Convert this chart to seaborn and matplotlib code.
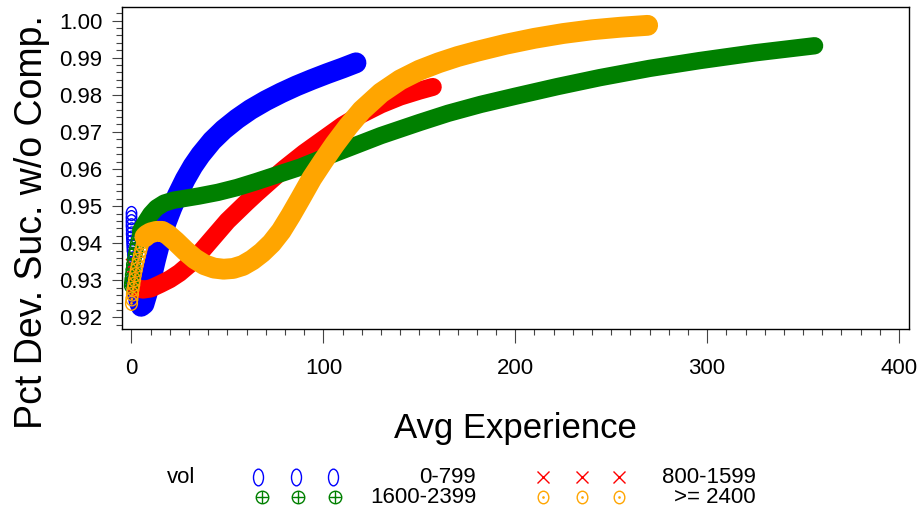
import numpy as np
import pandas as pd
import matplotlib
matplotlib.use("Agg")
import matplotlib.pyplot as plt
from matplotlib.path import Path
from matplotlib.lines import Line2D
from matplotlib.ticker import MultipleLocator, FormatStrFormatter
import seaborn as sns

# ---------------- data ----------------
series_names = ["0-799", "800-1599", "1600-2399", ">= 2400"]

# sparse individual markers at the very start of each curve
blue_ring_x = [0, 0, 0, 0, 0.1, 0.1, 0.2, 0.3, 0.4, 0.5, 0.7, 0.9, 1.1, 1.4, 1.7, 2.0, 2.4]
blue_ring_y = [0.9480, 0.9469, 0.9458, 0.9447, 0.9436, 0.9425, 0.9414, 0.9403, 0.9392,
               0.9381, 0.9370, 0.9358, 0.9346, 0.9334, 0.9322, 0.9310, 0.9297]
red_ring_x = [0, 0.3, 0.6, 1.0, 1.5, 2.0, 2.6]
red_ring_y = [0.9345, 0.9335, 0.9322, 0.9310, 0.9298, 0.9288, 0.9280]
green_ring_x = [0, 0.1, 0.3, 0.5, 0.8, 1.1, 1.5, 2.0, 2.5, 3.0, 3.6, 4.2, 4.8]
green_ring_y = [0.9285, 0.9293, 0.9303, 0.9315, 0.9328, 0.9342, 0.9356, 0.9370,
                0.9384, 0.9397, 0.9410, 0.9422, 0.9434]
orange_ring_x = [0, 0.2, 0.5, 0.8, 1.2, 1.6, 2.0, 2.5, 3.0, 3.6, 4.2, 4.8, 5.5, 6.2, 7.0]
orange_ring_y = [0.9238, 0.9250, 0.9263, 0.9276, 0.9289, 0.9302, 0.9315, 0.9328,
                 0.9341, 0.9354, 0.9367, 0.9380, 0.9393, 0.9405, 0.9417]

# dense part of each curve
blue_x = [2.4, 3, 4, 5, 6.5, 8, 10, 12.5, 15, 18, 21, 24, 28, 32, 36, 42, 48, 55,
          62, 70, 78, 86, 94, 102, 110, 117]
blue_y = [0.9297, 0.9270, 0.9242, 0.9230, 0.9236, 0.9262, 0.9300, 0.9355, 0.9405,
          0.9455, 0.9495, 0.9530, 0.9572, 0.9608, 0.9638, 0.9676, 0.9706, 0.9735,
          0.9760, 0.9784, 0.9805, 0.9824, 0.9841, 0.9857, 0.9872, 0.9886]

red_x = [2.6, 3.5, 6, 10, 15, 20, 25, 30, 35, 40, 45, 50, 55, 60, 65, 70, 75, 80,
         90, 100, 110, 120, 130, 140, 150, 157]
red_y = [0.9280, 0.9278, 0.9275, 0.9278, 0.9290, 0.9303, 0.9320, 0.9342, 0.9370,
         0.9400, 0.9430, 0.9460, 0.9485, 0.9510, 0.9534, 0.9557, 0.9580, 0.9602,
         0.9643, 0.9680, 0.9717, 0.9748, 0.9774, 0.9795, 0.9811, 0.9821]

green_x = [4.8, 6, 8, 10, 13, 17, 22, 28, 35, 45, 55, 65, 75, 88, 100, 115, 130,
           150, 165, 182, 200, 222, 244, 270, 296, 325, 356]
green_y = [0.9434, 0.9445, 0.9462, 0.9478, 0.9495, 0.9508, 0.9516, 0.9521, 0.9527,
           0.9537, 0.9550, 0.9566, 0.9583, 0.9605, 0.9630, 0.9660, 0.9690, 0.9725,
           0.9750, 0.9774, 0.9796, 0.9822, 0.9846, 0.9871, 0.9892, 0.9913, 0.9932]

orange_x = [7, 8, 10, 13, 16, 19, 23, 28, 33, 38, 43, 48, 53, 58, 63, 68, 73, 78,
            83, 88, 94, 100, 106, 113, 120, 130, 140, 150, 160, 170, 180, 195, 210,
            225, 240, 255, 269]
orange_y = [0.9417, 0.9422, 0.9428, 0.9432, 0.9432, 0.9423, 0.9405, 0.9380, 0.9358,
            0.9342, 0.9333, 0.9330, 0.9332, 0.9340, 0.9355, 0.9375, 0.9400, 0.9433,
            0.9475, 0.9520, 0.9575, 0.9622, 0.9667, 0.9715, 0.9758, 0.9805, 0.9840,
            0.9866, 0.9886, 0.9903, 0.9917, 0.9936, 0.9952, 0.9965, 0.9975, 0.9982,
            0.9987]

x_ticks = [0, 100, 200, 300, 400]
y_ticks = [0.92, 0.93, 0.94, 0.95, 0.96, 0.97, 0.98, 0.99, 1.00]

# ---------------- styling ----------------
sns.set_style("ticks")
plt.rcParams["font.family"] = ["Liberation Sans", "DejaVu Sans"]
plt.rcParams.update({"text.color": "black", "axes.labelcolor": "black",
                     "xtick.labelcolor": "black", "ytick.labelcolor": "black"})

# marker shapes
_circ = Path.unit_circle()
m_oval = Path(_circ.vertices * np.array([0.6, 1.0]), _circ.codes)
m_oval_data = Path(_circ.vertices * np.array([0.75, 1.0]), _circ.codes)
m_oplus = Path.make_compound_path(_circ, Path([[-1, 0], [1, 0]]), Path([[0, -1], [0, 1]]))
m_odot = Path.make_compound_path(Path(_circ.vertices * np.array([0.85, 1.0]), _circ.codes),
                                 Path(_circ.vertices * 0.1, _circ.codes))

colors = ["#0000FF", "#FF0000", "#008000", "#FFA500"]
markers = [m_oval, "x", m_oplus, m_odot]
data_markers = [m_oval_data, "x", m_oplus, m_odot]
band_lw = [15, 13, 12.5, 15]

rings = [(blue_ring_x, blue_ring_y), (red_ring_x, red_ring_y),
         (green_ring_x, green_ring_y), (orange_ring_x, orange_ring_y)]
bands = [(blue_x, blue_y), (red_x, red_y), (green_x, green_y), (orange_x, orange_y)]

W, H = 919, 511
fig = plt.figure(figsize=(W / 100, H / 100), dpi=100)
L, R, T, B = 122, 909, 7, 329
ax = fig.add_axes([L / W, 1 - B / H, (R - L) / W, (B - T) / H])

for i in range(4):
    rx, ry = rings[i]
    bx, by = bands[i]
    df_r = pd.DataFrame({"x": rx, "y": ry})
    df_b = pd.DataFrame({"x": bx, "y": by})
    if data_markers[i] == "x":
        sns.scatterplot(data=df_r, x="x", y="y", marker="x", s=64, color=colors[i],
                        linewidth=1.0, ax=ax, zorder=2 + i)
    else:
        sns.scatterplot(data=df_r, x="x", y="y", marker=data_markers[i], s=100,
                        color=colors[i], facecolor="none", edgecolor=colors[i],
                        linewidth=1.0, ax=ax, zorder=2 + i)
    sns.lineplot(data=df_b, x="x", y="y", color=colors[i], linewidth=band_lw[i],
                 sort=False, estimator=None, ax=ax, zorder=2 + i,
                 solid_capstyle="round", solid_joinstyle="round")

ax.set_xlim(-4.95, 405.2)
ax.set_ylim(0.91689, 1.00364)
ax.set_xticks(x_ticks)
ax.set_yticks(y_ticks)
ax.yaxis.set_major_formatter(FormatStrFormatter("%.2f"))
ax.xaxis.set_minor_locator(MultipleLocator(10))
ax.yaxis.set_minor_locator(MultipleLocator(0.002))
ax.tick_params(axis="x", which="major", length=10, width=0.8, color="#444444",
               pad=11, labelsize=16, labelcolor="black")
ax.tick_params(axis="x", which="minor", length=4.5, width=0.8, color="#444444")
ax.tick_params(axis="y", which="major", length=7, width=0.8, color="#444444",
               pad=7, labelsize=16, labelcolor="black")
ax.tick_params(axis="y", which="minor", length=4, width=0.8, color="#444444")
for sp in ax.spines.values():
    sp.set_visible(True)
    sp.set_color("black")
    sp.set_linewidth(1.0)

ax.set_xlabel("Avg Experience", fontsize=25, color="black")
ax.xaxis.label.set_va("center")
ax.xaxis.set_label_coords(0.5, (B - 428) / (B - T))
ax.set_ylabel("Pct Dev. Suc. w/o Comp.", fontsize=27, color="black")
ax.yaxis.label.set_va("center")
ax.yaxis.set_label_coords((32 - L) / (R - L), (B - 222) / (B - T))

# ---------------- legend ----------------
def fx(px):
    return px / W

def fy(py):
    return 1 - py / H

row1, row2 = 477, 497
fig.text(fx(181), fy(row1), "vol", ha="center", va="center", fontsize=16)
leg = [
    (0, [258, 296, 333], row1, 476, 12),
    (1, [543, 582, 619], row1, 756, 8),
    (2, [262, 298, 335], row2, 476, 9),
    (3, [543, 582, 619], row2, 756, 9),
]
for i, xs, yrow, lab_right, ms in leg:
    ln = Line2D([fx(v) for v in xs], [fy(yrow)] * 3, transform=fig.transFigure,
                linestyle="none", marker=markers[i], markersize=ms,
                markerfacecolor="none", markeredgecolor=colors[i], markeredgewidth=1.0)
    fig.add_artist(ln)
    fig.text(fx(lab_right), fy(yrow), series_names[i], ha="right", va="center",
             fontsize=16)

fig.savefig("out.png", dpi=100)
